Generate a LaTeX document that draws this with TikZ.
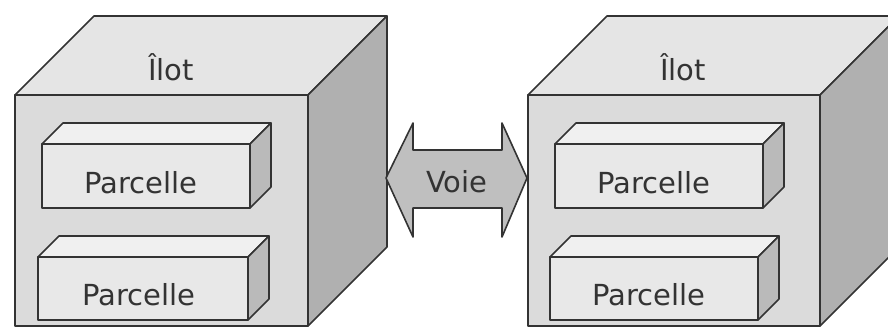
\documentclass[tikz,border=0pt]{standalone}
\usepackage{fontspec}
\setmainfont{DejaVu Sans}
\begin{document}
\begin{tikzpicture}[x=1pt,y=-1pt,
  edge/.style={draw=black!80,line width=1.6pt,line join=round},
  cubefront/.style={edge,fill=black!14},
  cubetop/.style={edge,fill=black!10},
  cubeside/.style={edge,fill=black!31},
  parfront/.style={edge,fill=black!9},
  partop/.style={edge,fill=black!6},
  parside/.style={edge,fill=black!27},
  road/.style={edge,fill=black!25},
  lbl/.style={font=\fontsize{29}{32}\selectfont,text=black!80,anchor=base,inner sep=0pt}]
\useasboundingbox (0,0) rectangle (888,327);
\clip (0,0) rectangle (888,327);
% a box seen from the front: x, y (top-left of front face), width, height, depth, three styles
\newcommand\drawprism[8]{%
  \path[#6] (#1,#2) rectangle ++(#3,#4);
  \path[#7] (#1,#2) -- ++(#5,-#5) -- ++(#3,0) -- ++(-#5,#5) -- cycle;
  \path[#8] (#1+#3,#2) -- ++(#5,-#5) -- ++(0,#4) -- ++(-#5,#5) -- cycle;
}
% left block
\drawprism{15}{95}{293}{231}{79}{cubefront}{cubetop}{cubeside}
\drawprism{42}{144}{208}{64}{21}{parfront}{partop}{parside}
\drawprism{38}{257}{210}{63}{21}{parfront}{partop}{parside}
\node[lbl] (ilotA) at (171,80) {Îlot};
\node[lbl] (parA1) at (141,193) {Parcelle};
\node[lbl] (parA2) at (139,305) {Parcelle};
% right block
\drawprism{528}{95}{292}{231}{79}{cubefront}{cubetop}{cubeside}
\drawprism{555}{144}{208}{64}{21}{parfront}{partop}{parside}
\drawprism{550}{257}{208}{63}{21}{parfront}{partop}{parside}
\node[lbl] (ilotB) at (683,80) {Îlot};
\node[lbl] (parB1) at (654,193) {Parcelle};
\node[lbl] (parB2) at (649,305) {Parcelle};
% the road between the blocks
\path[road] (386,178) -- (413,123) -- (413,150) -- (502,150) -- (502,123)
  -- (527,178) -- (502,237) -- (502,208) -- (413,208) -- (413,237) -- cycle;
\node[lbl] (voie) at (457,192) {Voie};
\end{tikzpicture}
\end{document}
